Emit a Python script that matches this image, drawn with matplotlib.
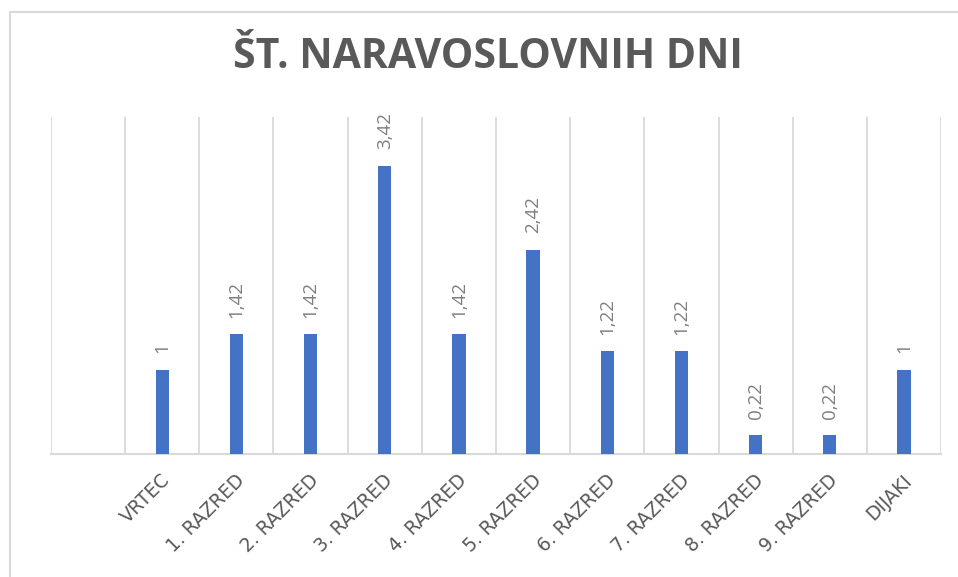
import matplotlib
matplotlib.use("Agg")
import matplotlib.pyplot as plt
import numpy as np

categories = ["", "VRTEC", "1. RAZRED", "2. RAZRED", "3. RAZRED", "4. RAZRED",
              "5. RAZRED", "6. RAZRED", "7. RAZRED", "8. RAZRED", "9. RAZRED", "DIJAKI"]
values = [np.nan, 1, 1.42, 1.42, 3.42, 1.42, 2.42, 1.22, 1.22, 0.22, 0.22, 1]
value_labels = ["", "1", "1,42", "1,42", "3,42", "1,42", "2,42", "1,22", "1,22", "0,22", "0,22", "1"]
title = "ŠT. NARAVOSLOVNIH DNI"

plt.rcParams['font.family'] = ['Open Sans', 'DejaVu Sans']

W, H = 958, 577
fig = plt.figure(figsize=(W / 100, H / 100), dpi=100)

# outer chart border
border = plt.Rectangle((10 / W, -0.1), 1.2, (H - 12) / H + 0.1, transform=fig.transFigure,
                       fill=False, edgecolor="#d9d9d9", linewidth=1.5)
fig.patches.append(border)

left, right, top, bottom = 51, 941, 117, 454
ax = fig.add_axes([left / W, 1 - bottom / H, (right - left) / W, (bottom - top) / H])

x = np.arange(len(categories))
ax.bar(x, values, width=0.18, color="#4472C4", zorder=3)

ax.set_xlim(-0.5, len(categories) - 0.5)
ax.set_ylim(0, 4)

# vertical gridlines at category boundaries
for b in np.arange(-0.5, len(categories), 1.0):
    ax.axvline(b, color="#d9d9d9", linewidth=1.3, zorder=1)

for s in ["top", "left", "right"]:
    ax.spines[s].set_visible(False)
ax.spines["bottom"].set_color("#d9d9d9")
ax.spines["bottom"].set_linewidth(1.5)
ax.set_yticks([])
ax.set_xticks(x)
ax.set_xticklabels([])
ax.tick_params(axis="x", length=0)

for xi, lab in zip(x, categories):
    if lab:
        ax.annotate(lab, xy=(xi, 0), xycoords=("data", "axes fraction"),
                    xytext=(-1, -12), textcoords="offset points",
                    rotation=45, ha="right", va="top", rotation_mode="anchor",
                    fontsize=13.5, color="#595959", family=["DejaVu Sans"])

for xi, v, lab in zip(x, values, value_labels):
    if lab and not np.isnan(v):
        ax.annotate(lab, xy=(xi, v), xytext=(0, 12), textcoords="offset points",
                    rotation=90, ha="center", va="bottom",
                    fontsize=13.5, color="#7f7f7f")

fig.text(487.5 / W, 1 - 57 / H, title, ha="center", va="center",
         fontsize=29.5, fontweight="bold", color="#595959")

fig.savefig("out.png", dpi=100)
